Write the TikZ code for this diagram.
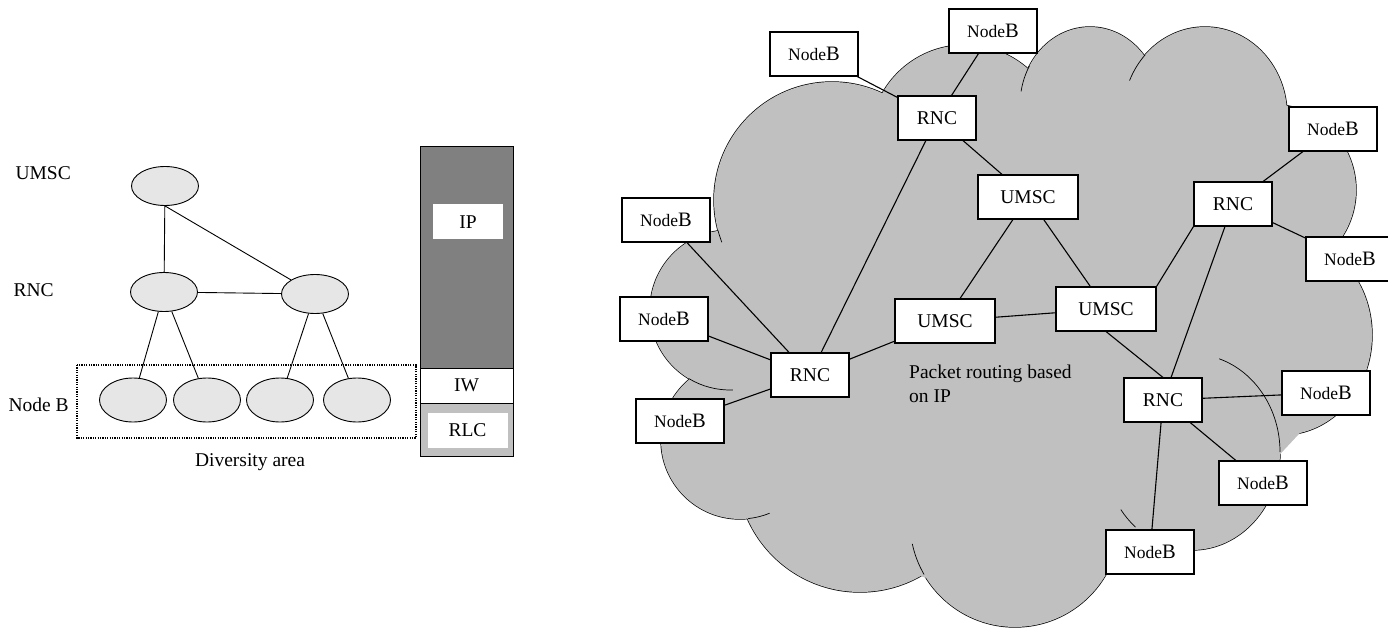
\documentclass[tikz,border=0pt]{standalone}
\usepackage{fontspec}
\setmainfont{Liberation Serif}
\newfontfamily\tnr{Liberation Serif}
\usetikzlibrary{shapes.geometric}
\definecolor{cloudgray}{RGB}{192,192,192}
\definecolor{stackdark}{RGB}{128,128,128}
\definecolor{treegray}{RGB}{230,230,230}
\newcommand{\nbtxt}{Node{\fontsize{20.5}{24}\selectfont B}}
% bumps of the cloud: x/y/x radius/y radius
\def\cloudbumps{832/-200/118/118,965/-140/95/95,1090/-105/70/78,1205/-115/82/88,1270/-190/86/86,1282/-335/90/100,1192/-452/88/98,1015/-522/105/105,860/-469/123/123,740/-440/79/79,730/-310/80/80}

\begin{document}
\begin{tikzpicture}[x=1pt,y=1pt,font=\tnr\fontsize{19.5}{24}\selectfont,
box/.style={draw,line width=1.1pt,fill=white,inner sep=0pt,minimum height=44pt},
nb/.style={box,minimum width=88pt,font=\tnr\fontsize{17.5}{24}\selectfont},
rnc/.style={box,minimum width=78pt},
umsc/.style={box,minimum width=100pt},
elli/.style={ellipse,draw,line width=.9pt,fill=treegray,inner sep=0pt,minimum width=67pt,minimum height=39pt},
link/.style={line width=1.1pt},
cloudedge/.style={line width=.7pt}]
\useasboundingbox(0,0)rectangle(1388,-628);

% left: hierarchy
\node[anchor=west](lblU)at(12,-173){UMSC};
\node[anchor=west](lblR)at(10,-290){RNC};
\node[anchor=west](lblB)at(5,-405){Node B};
\node[elli](tU)at(165,-186){};
\node[elli](tR1)at(164,-292){};
\node[elli](tR2)at(315,-294){};
\node[elli,minimum height=44pt](tB1)at(133,-400){};
\node[elli,minimum height=44pt](tB2)at(207,-400){};
\node[elli,minimum height=44pt](tB3)at(280,-400){};
\node[elli,minimum height=44pt](tB4)at(357,-400){};
\draw[line width=1.3pt,dash pattern=on 1.2pt off 1.2pt](77,-365)rectangle(416,-438);
\node(lblDiv)at(250,-462){Diversity area};
\draw[line width=.9pt](tU)--(tR1);
\draw[line width=.9pt](tU.south)--(tR2);
\draw[line width=.9pt](tR1)--(tR2);
\draw[line width=.9pt](tR1)--(tB1);
\draw[line width=.9pt](tR1)--(tB2);
\draw[line width=.9pt](tR2)--(tB3);
\draw[line width=.9pt](tR2)--(tB4);

% protocol stack
\filldraw[fill=stackdark,line width=1pt](420,-147)rectangle(513,-368);
\node[fill=white,inner sep=0pt,minimum width=70pt,minimum height=35pt](ip)at(468,-222){IP};
\node[draw,fill=white,line width=1pt,inner sep=0pt,minimum width=93pt,minimum height=35pt](iw)at(466.5,-385.5){IW};
\filldraw[fill=cloudgray,line width=1pt](420,-403)rectangle(513,-456);
\node[fill=white,inner sep=0pt,minimum width=80pt,minimum height=35pt](rlc)at(467.5,-430){RLC};

% cloud
\foreach \cx/\cy/\rx/\ry in \cloudbumps
  \filldraw[fill=cloudgray,line width=1.4pt](\cx,\cy)ellipse[x radius=\rx,y radius=\ry];
\foreach \cx/\cy/\rx/\ry in \cloudbumps
  \fill[cloudgray](\cx,\cy)ellipse[x radius=\rx,y radius=\ry];
\fill[cloudgray](680,-420)--(720,-250)--(900,-110)--(1280,-110)--(1330,-250)--(1340,-390)--(1200,-540)--(1000,-600)--(800,-540)--cycle;
\draw[cloudedge](832,-200)++(195:118)arc[start angle=195,end angle=201,radius=118];
\draw[cloudedge](730,-310)++(239:80)arc[start angle=239,end angle=272,radius=80];
\draw[cloudedge](740,-440)++(276:79)arc[start angle=276,end angle=292,radius=79];
\draw[cloudedge](1015,-522)++(192:105)arc[start angle=192,end angle=210,radius=105];
\draw[cloudedge](1192,-452)++(216:88 and 98)arc[start angle=216,end angle=230,x radius=88,y radius=98];
\draw[cloudedge](1192,-452)++(0:88 and 98)arc[start angle=0,end angle=72,x radius=88,y radius=98];
\draw[cloudedge](1090,-105)++(150:70 and 78)arc[start angle=150,end angle=170,x radius=70,y radius=78];
\draw[cloudedge](1205,-115)++(137:82 and 88)arc[start angle=137,end angle=157,x radius=82,y radius=88];

% network in the cloud
\node[nb](nbA)at(814,-54){\nbtxt};
\node[nb](nbB)at(993,-31){\nbtxt};
\node[nb](nbC)at(666,-220){\nbtxt};
\node[nb](nbD)at(664,-319){\nbtxt};
\node[nb](nbE)at(680,-421){\nbtxt};
\node[nb](nbF)at(1333,-129){\nbtxt};
\node[nb](nbG)at(1350,-259){\nbtxt};
\node[nb](nbH)at(1326,-393){\nbtxt};
\node[nb](nbI)at(1263,-483){\nbtxt};
\node[nb](nbJ)at(1150,-552){\nbtxt};
\node[rnc](rncN)at(937,-118){RNC};
\node[rnc](rncW)at(810,-375){RNC};
\node[rnc](rncE)at(1233,-204){RNC};
\node[rnc](rncS)at(1163,-400){RNC};
\node[umsc](umscN)at(1028,-197){UMSC};
\node[umsc](umscM)at(945,-321){UMSC};
\node[umsc](umscE)at(1106,-309){UMSC};
\node[anchor=north west,align=left,inner sep=0pt](pkt)at(909,-365){Packet routing based\\on IP};
\draw[link](nbA)--(rncN);
\draw[link](nbB)--(rncN);
\draw[link](rncN)--(umscN);
\draw[link](rncN)--(rncW);
\draw[link](umscN)--(umscM);
\draw[link](umscN)--(umscE);
\draw[link](umscM)--(umscE);
\draw[link](umscM)--(rncW);
\draw[link](rncE.south west)--(umscE.north east);
\draw[link](rncE)--(rncS);
\draw[link](rncE)--(nbF);
\draw[link](rncE)--(nbG);
\draw[link](umscE.south)--(rncS.north);
\draw[link](rncS)--(nbH);
\draw[link](rncS)--(nbI);
\draw[link](rncS)--(nbJ);
\draw[link](rncW)--(nbC);
\draw[link](rncW)--(nbD);
\draw[link](rncW)--(nbE);
\end{tikzpicture}
\end{document}
